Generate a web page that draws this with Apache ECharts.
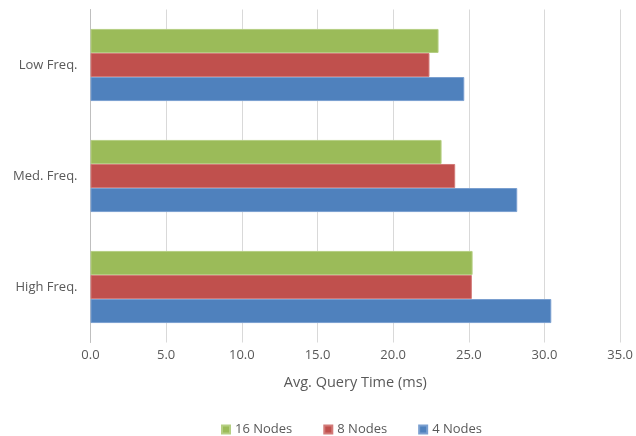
<!DOCTYPE html>
<html>
<head>
<meta charset="utf-8">
<script src="https://cdn.jsdelivr.net/npm/echarts@6/dist/echarts.min.js"></script>
<style>
  html, body { margin: 0; padding: 0; background: #fff; }
  #chart { width: 636px; height: 436px; }
</style>
</head>
<body>
<div id="chart"></div>
<script>
// Query frequency groups, listed bottom to top
const categories = ['High Freq.', 'Med. Freq.', 'Low Freq.'];
// Average query time (ms) per cluster size
const nodes4 = [30.45, 28.2, 24.7];
const nodes8 = [25.2, 24.1, 22.4];
const nodes16 = [25.25, 23.2, 23.0];
const legendOrder = ['16 Nodes', '8 Nodes', '4 Nodes'];

const font = 'Open Sans';
const textColor = '#595959';

function barSeries(name, data, color, border) {
  return {
    name: name,
    type: 'bar',
    data: data,
    barCategoryGap: '35%',
    barGap: '0%',
    itemStyle: { color: color, borderColor: border, borderWidth: 1 }
  };
}

const chart = echarts.init(document.getElementById('chart'));
chart.setOption({
  animation: false,
  grid: { left: 90.5, right: 14, top: 9.5, bottom: 93.5 },
  legend: {
    data: legendOrder,
    top: 418,
    left: 216,
    itemWidth: 8,
    itemHeight: 8,
    itemGap: 31,
    icon: 'rect',
    textStyle: { fontFamily: font, fontSize: 13, color: textColor }
  },
  xAxis: {
    type: 'value',
    min: 0,
    max: 35,
    interval: 5,
    name: 'Avg. Query Time (ms)',
    nameLocation: 'middle',
    nameGap: 33,
    nameTextStyle: { fontFamily: font, fontSize: 14.5, color: textColor },
    axisLine: { show: false },
    axisTick: { show: false },
    axisLabel: {
      margin: 6,
      fontFamily: font, fontSize: 13, color: textColor,
      formatter: v => v.toFixed(1)
    },
    splitLine: { lineStyle: { color: '#d9d9d9', width: 1 } }
  },
  yAxis: {
    type: 'category',
    data: categories,
    axisLine: { lineStyle: { color: '#bfbfbf', width: 1 } },
    axisTick: { show: false },
    axisLabel: { margin: 13, fontFamily: font, fontSize: 13, color: textColor }
  },
  // series[0] sits at the top of each band
  series: [
    barSeries('16 Nodes', nodes16, '#9BBB59', '#b5cf83'),
    barSeries('8 Nodes', nodes8, '#C0504D', '#d27a78'),
    barSeries('4 Nodes', nodes4, '#4F81BD', '#7a9fd0')
  ]
});
</script>
</body>
</html>
